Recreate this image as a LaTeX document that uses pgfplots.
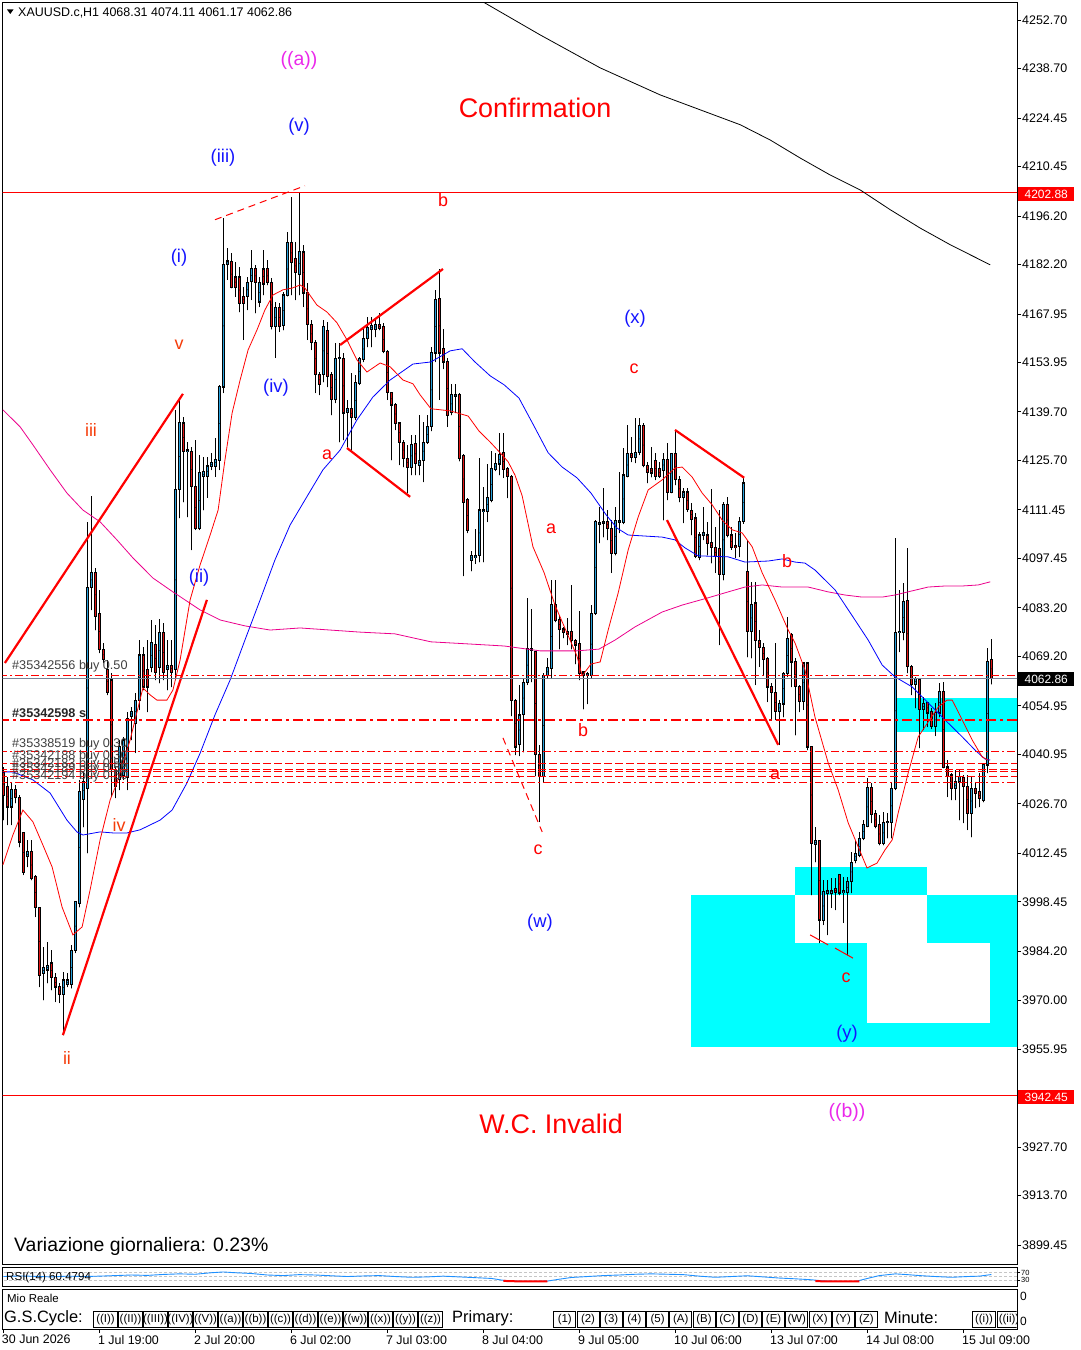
\documentclass[border=0pt]{standalone}
\usepackage{pgfplots}
\pgfplotsset{compat=1.18}
\usepackage{pgfplotstable}
\usepackage{fontspec}
\setmainfont{Liberation Sans}
\definecolor{bullc}{RGB}{38,160,220}
\definecolor{bearc}{RGB}{225,20,20}
\definecolor{aquac}{RGB}{0,255,255}
\definecolor{orred}{RGB}{245,60,10}
\definecolor{wblue}{RGB}{20,20,255}
\definecolor{wmag}{RGB}{235,40,235}
\definecolor{rsib}{RGB}{30,144,255}
\definecolor{bidg}{RGB}{120,130,150}
\newcommand{\fs}[1]{\fontsize{#1}{#1}\selectfont}
\pgfplotsset{candle/.style={only marks, mark=*, mark size=0.01pt, mark options={draw=none, fill=none}}}

\pgfplotstableread{
k o h l c
0 4035.6 4037.3 4022.0 4029.2
1 4031.6 4034.4 4020.6 4025.8
2 4025.8 4032.7 4020.6 4030.7
3 4030.7 4032.1 4026.9 4028.4
4 4028.4 4029.2 4014.2 4015.7
5 4018.3 4018.6 4006.2 4007.0
6 4011.4 4016.3 4008.5 4012.8
7 4012.8 4016.3 4004.7 4005.3
8 4005.6 4006.2 3994.1 3996.7
9 3996.7 3996.9 3973.9 3977.3
10 3977.9 3985.4 3970.1 3979.4
11 3978.8 3986.9 3975.0 3980.2
12 3980.8 3984.5 3973.0 3976.5
13 3976.5 3977.9 3969.6 3973.9
14 3973.9 3975.0 3969.3 3971.6
15 3971.6 3978.2 3960.0 3975.9
16 3974.5 3977.9 3973.9 3975.9
17 3974.5 3986.0 3973.5 3984.5
18 3984.5 3998.4 3983.7 3998.4
19 3998.1 4033.6 3996.9 4030.1
20 4028.0 4036.0 4020.0 4033.0
21 4031.0 4108.0 4012.5 4089.2
22 4089.2 4115.5 4082.6 4093.3
23 4093.3 4094.7 4076.8 4080.6
24 4081.7 4088.4 4070.2 4071.1
25 4071.1 4073.1 4067.3 4068.2
26 4065.3 4068.2 4058.1 4058.7
27 4062.4 4064.4 4028.7 4036.5
28 4036.5 4037.3 4028.4 4031.6
29 4033.6 4045.1 4030.7 4043.1
30 4035.0 4046.0 4033.6 4045.1
31 4034.4 4053.2 4030.7 4051.4
32 4052.0 4054.6 4045.1 4053.2
33 4050.0 4058.7 4041.4 4056.6
34 4056.6 4073.9 4053.8 4069.6
35 4069.6 4071.9 4059.5 4060.4
36 4065.3 4073.9 4053.2 4060.4
37 4065.9 4079.7 4064.7 4073.1
38 4072.5 4078.3 4062.4 4064.7
39 4065.9 4080.0 4061.5 4076.0
40 4076.0 4078.8 4062.4 4064.7
41 4065.3 4073.9 4059.5 4066.7
42 4066.7 4073.9 4060.4 4064.7
43 4065.3 4140.3 4062.4 4117.2
44 4117.2 4143.7 4109.1 4136.5
45 4136.5 4138.2 4113.7 4128.2
46 4128.2 4131.0 4109.4 4128.7
47 4128.2 4129.6 4099.9 4118.1
48 4118.1 4131.6 4105.7 4106.2
49 4106.2 4127.3 4105.7 4122.1
50 4121.0 4126.7 4111.4 4122.4
51 4121.0 4126.7 4115.0 4124.1
52 4124.1 4127.9 4123.0 4125.0
53 4124.1 4132.2 4121.0 4126.1
54 4125.8 4147.5 4123.0 4146.9
55 4146.9 4195.6 4145.2 4182.1
56 4182.1 4187.0 4177.8 4183.2
57 4183.2 4185.5 4175.4 4175.7
58 4178.6 4182.9 4172.9 4175.7
59 4178.6 4181.5 4168.5 4171.1
60 4172.9 4175.7 4160.5 4171.1
61 4172.9 4178.6 4169.1 4176.9
62 4177.2 4186.4 4172.0 4180.9
63 4180.9 4182.1 4168.2 4176.9
64 4171.4 4178.6 4170.0 4176.9
65 4180.9 4186.4 4173.4 4176.6
66 4180.9 4183.5 4176.3 4176.9
67 4176.9 4178.3 4163.5 4164.2
68 4164.2 4171.4 4155.3 4169.7
69 4169.7 4171.1 4162.8 4164.2
70 4164.5 4174.3 4163.3 4173.4
71 4173.4 4191.6 4173.0 4188.4
72 4188.4 4201.7 4173.4 4182.7
73 4183.8 4188.7 4172.0 4179.8
74 4179.2 4202.8 4173.4 4185.8
75 4185.8 4187.8 4170.0 4174.0
76 4174.0 4176.9 4160.5 4164.8
77 4164.8 4166.2 4157.6 4159.6
78 4159.6 4160.5 4145.2 4150.4
79 4150.4 4151.2 4144.6 4147.5
80 4150.4 4166.2 4148.3 4164.2
81 4163.3 4165.6 4146.9 4149.8
82 4150.4 4151.2 4138.8 4143.2
83 4143.2 4159.6 4142.3 4155.0
84 4155.0 4159.6 4131.0 4155.3
85 4155.0 4156.7 4131.6 4139.4
86 4139.4 4143.2 4129.6 4140.6
87 4140.6 4150.9 4128.7 4138.0
88 4138.0 4150.4 4137.4 4148.1
89 4147.8 4155.5 4147.5 4155.0
90 4154.7 4163.9 4154.1 4161.0
91 4161.0 4167.1 4158.4 4163.9
92 4163.6 4167.1 4158.4 4164.5
93 4163.6 4166.2 4161.3 4164.8
94 4164.8 4168.2 4163.3 4163.9
95 4164.2 4165.4 4156.7 4157.0
96 4157.0 4157.5 4143.2 4145.2
97 4145.2 4145.5 4125.8 4141.7
98 4141.7 4142.3 4134.5 4136.5
99 4136.5 4136.8 4124.4 4131.0
100 4131.0 4131.6 4123.8 4126.4
101 4126.4 4130.2 4116.3 4123.8
102 4123.8 4133.1 4121.5 4130.2
103 4130.5 4133.1 4121.5 4124.7
104 4124.4 4138.8 4121.5 4125.8
105 4125.8 4136.8 4119.5 4131.0
106 4131.0 4138.8 4130.5 4135.4
107 4135.4 4158.4 4134.2 4156.7
108 4156.7 4174.9 4154.1 4172.0
109 4172.3 4180.9 4143.2 4156.7
110 4158.1 4163.6 4152.1 4154.1
111 4154.1 4155.3 4135.4 4138.8
112 4139.4 4147.8 4138.8 4144.6
113 4144.3 4147.8 4139.4 4144.6
114 4144.6 4145.2 4125.5 4126.4
115 4127.0 4127.5 4092.4 4113.7
116 4114.3 4114.8 4104.8 4105.4
117 4097.0 4099.6 4093.8 4098.2
118 4097.6 4106.0 4095.9 4098.2
119 4098.2 4126.4 4096.4 4111.4
120 4110.9 4118.1 4096.4 4111.4
121 4111.1 4124.7 4108.0 4114.9
122 4114.3 4128.4 4113.7 4123.3
123 4123.0 4127.9 4122.7 4124.7
124 4124.7 4133.6 4121.5 4127.3
125 4127.9 4133.6 4120.7 4123.0
126 4123.5 4123.8 4114.9 4121.2
127 4121.2 4121.5 4052.0 4056.6
128 4056.6 4057.0 4040.8 4043.1
129 4043.7 4061.0 4040.5 4052.3
130 4052.6 4063.0 4041.6 4061.8
131 4061.8 4086.1 4061.0 4071.6
132 4070.8 4082.9 4061.8 4071.6
133 4070.5 4070.8 4034.7 4040.8
134 4040.8 4043.7 4021.5 4034.7
135 4034.7 4064.4 4033.0 4063.8
136 4063.6 4068.7 4063.0 4065.9
137 4065.6 4091.2 4063.0 4084.3
138 4084.3 4091.2 4079.1 4079.7
139 4079.7 4080.9 4071.3 4077.1
140 4077.1 4077.7 4074.5 4076.0
141 4076.3 4080.3 4072.5 4075.4
142 4076.3 4089.8 4071.3 4073.9
143 4073.9 4074.2 4067.0 4072.5
144 4072.8 4082.3 4062.4 4064.4
145 4063.8 4065.0 4054.0 4064.7
146 4063.8 4064.7 4055.5 4064.4
147 4063.8 4084.0 4063.0 4081.7
148 4081.7 4108.5 4081.2 4108.0
149 4107.4 4112.3 4101.9 4107.8
150 4107.6 4117.8 4103.6 4108.1
151 4108.1 4111.4 4102.8 4106.2
152 4106.2 4108.5 4093.3 4099.0
153 4099.0 4112.3 4098.4 4108.5
154 4107.7 4122.4 4104.8 4108.5
155 4107.7 4129.3 4107.4 4121.5
156 4121.2 4135.9 4120.9 4127.6
157 4127.6 4132.5 4125.3 4126.7
158 4126.7 4138.0 4125.0 4127.9
159 4127.9 4138.0 4127.3 4135.9
160 4135.9 4136.5 4123.8 4124.4
161 4124.1 4125.3 4119.2 4122.1
162 4123.5 4129.6 4120.9 4122.1
163 4125.6 4127.9 4120.1 4121.2
164 4123.3 4125.3 4120.7 4121.2
165 4122.7 4127.9 4108.5 4126.1
166 4126.1 4130.7 4114.3 4116.6
167 4116.6 4127.9 4116.3 4127.6
168 4127.6 4134.2 4118.6 4120.1
169 4120.1 4121.2 4113.7 4114.9
170 4114.9 4117.8 4107.7 4116.6
171 4116.6 4117.8 4110.9 4111.7
172 4111.4 4113.5 4104.2 4108.8
173 4109.1 4110.6 4097.6 4097.9
174 4097.6 4105.1 4097.0 4104.2
175 4104.2 4112.3 4102.8 4104.8
176 4104.2 4108.0 4098.4 4101.9
177 4101.9 4117.5 4096.1 4100.5
178 4100.5 4106.5 4093.3 4097.9
179 4100.2 4111.4 4072.5 4092.7
180 4092.7 4113.7 4091.2 4112.9
181 4112.9 4115.2 4103.6 4104.2
182 4104.2 4106.5 4100.0 4100.5
183 4101.1 4104.8 4097.6 4100.5
184 4100.8 4109.4 4097.9 4108.0
185 4108.0 4120.9 4107.5 4119.2
186 4093.6 4102.8 4069.0 4076.3
187 4076.3 4090.7 4068.7 4084.3
188 4084.6 4090.7 4061.0 4073.9
189 4073.9 4076.8 4066.2 4071.9
190 4071.9 4073.1 4063.8 4068.2
191 4068.5 4069.0 4056.1 4060.4
192 4060.4 4061.5 4050.9 4058.7
193 4058.7 4073.1 4050.9 4053.2
194 4053.2 4056.6 4043.7 4055.5
195 4055.5 4064.7 4051.7 4064.4
196 4064.4 4080.6 4063.3 4074.5
197 4075.4 4076.0 4060.4 4067.6
198 4067.6 4068.7 4046.5 4060.4
199 4060.4 4061.0 4053.2 4056.1
200 4056.1 4067.6 4053.8 4067.3
201 4067.3 4067.6 4042.2 4043.1
202 4043.1 4043.4 4000.4 4015.4
203 4015.1 4020.0 4009.9 4016.0
204 4016.0 4016.3 3986.6 3993.2
205 3993.2 4004.7 3991.8 4001.3
206 4001.0 4004.7 3988.9 4001.8
207 4001.0 4005.3 3996.7 4001.8
208 4002.4 4005.3 3996.1 4001.0
209 4006.2 4006.5 4000.4 4001.0
210 4001.0 4005.6 3992.4 4001.6
211 4001.0 4005.6 3983.1 4004.2
212 4004.2 4012.8 4001.0 4009.9
213 4010.5 4016.3 4009.6 4012.5
214 4011.9 4018.6 4011.4 4016.8
215 4016.8 4022.0 4016.3 4020.6
216 4020.3 4034.1 4020.0 4031.3
217 4031.3 4032.7 4021.2 4023.5
218 4023.8 4024.9 4019.7 4020.3
219 4020.6 4023.5 4014.8 4015.4
220 4015.4 4024.3 4014.8 4021.2
221 4021.2 4024.1 4016.8 4021.5
222 4021.2 4032.7 4016.8 4031.0
223 4031.0 4103.4 4030.7 4076.0
224 4076.0 4088.4 4070.5 4076.5
225 4076.0 4090.4 4073.9 4084.9
226 4085.2 4100.5 4064.4 4066.2
227 4066.2 4066.7 4058.1 4061.2
228 4061.2 4063.3 4054.3 4062.7
229 4062.4 4063.0 4042.8 4054.0
230 4054.0 4057.5 4048.0 4055.5
231 4055.8 4056.1 4048.9 4052.9
232 4053.2 4054.3 4048.3 4048.9
233 4048.9 4055.8 4046.3 4052.9
234 4052.9 4061.5 4051.7 4059.0
235 4059.0 4061.8 4037.0 4037.3
236 4037.3 4039.3 4028.7 4034.7
237 4035.0 4035.6 4027.8 4031.0
238 4031.0 4036.5 4027.8 4033.0
239 4033.0 4036.5 4022.0 4034.7
240 4034.4 4035.0 4021.2 4031.6
241 4031.8 4035.0 4019.2 4024.0
242 4024.0 4034.4 4017.1 4031.0
243 4031.0 4032.7 4025.5 4029.8
244 4030.1 4035.6 4025.8 4028.1
245 4027.8 4038.5 4027.2 4037.9
246 4037.9 4071.6 4035.6 4067.6
247 4068.31 4074.11 4061.17 4062.86
}\candles

\begin{document}
\begin{tikzpicture}[x=1bp,y=1bp]
\fill[white] (0,0) rectangle (1080,-1350);

% ---------------- main price window ----------------
\begin{axis}[
  at={(2.5bp,-3bp)}, anchor=north west,
  scale only axis, width=1014.5bp, height=1261bp,
  xmin=-0.2, xmax=253.4, ymin=3894.0, ymax=4257.6,
  axis line style={black, line width=1bp},
  xtick=\empty,
  ytick={4252.70,4238.70,4224.45,4210.45,4196.20,4182.20,4167.95,4153.95,4139.70,4125.70,4111.45,4097.45,4083.20,4069.20,4054.95,4040.95,4026.70,4012.45,3998.45,3984.20,3970.00,3955.95,3927.70,3913.70,3899.45},
  yticklabels={4252.70,4238.70,4224.45,4210.45,4196.20,4182.20,4167.95,4153.95,4139.70,4125.70,4111.45,4097.45,4083.20,4069.20,4054.95,4040.95,4026.70,4012.45,3998.45,3984.20,3970.00,3955.95,3927.70,3913.70,3899.45},
  ytick pos=right, yticklabel pos=right,
  tick align=outside, major tick length=4bp,
  every tick/.style={black, line width=0.8bp},
  yticklabel style={font=\fs{12.5}, inner sep=1bp},
  clip=true,
]
% cyan zones
\addplot[fill=aquac, draw=none] coordinates {(171.9,4000.4) (197.9,4000.4) (197.9,3956.6) (171.9,3956.6)} -- cycle;
\addplot[fill=aquac, draw=none] coordinates {(197.9,4008.5) (230.9,4008.5) (230.9,4000.4) (197.9,4000.4)} -- cycle;
\addplot[fill=aquac, draw=none] coordinates {(230.9,4000.4) (260,4000.4) (260,3986.6) (230.9,3986.6)} -- cycle;
\addplot[fill=aquac, draw=none] coordinates {(197.9,3986.6) (215.9,3986.6) (215.9,3956.6) (197.9,3956.6)} -- cycle;
\addplot[fill=aquac, draw=none] coordinates {(215.9,3963.5) (260,3963.5) (260,3956.6) (215.9,3956.6)} -- cycle;
\addplot[fill=aquac, draw=none] coordinates {(246.7,3986.6) (260,3986.6) (260,3963.5) (246.7,3963.5)} -- cycle;
\addplot[fill=aquac, draw=none] coordinates {(223.4,4057.2) (260,4057.2) (260,4047.4) (223.4,4047.4)} -- cycle;

% level lines
\addplot[red, line width=1bp] coordinates {(-1,4202.88) (260,4202.88)};
\addplot[red, line width=1bp] coordinates {(-1,3942.45) (260,3942.45)};

% candles: wicks, outlines, fills
\addplot[candle, error bars/.cd, y dir=plus, y explicit, error mark=none,
  error bar style={draw=black, line width=1bp}]
  table[x=k, y=l, y error plus expr=\thisrow{h}-\thisrow{l}] {\candles};
\addplot[candle, error bars/.cd, y dir=both, y explicit, error mark=none,
  error bar style={draw=black, line width=3.2bp}]
  table[x=k, y expr=(\thisrow{o}+\thisrow{c})/2, y error expr={abs(\thisrow{c}-\thisrow{o})/2+0.16}] {\candles};
\addplot[candle, error bars/.cd, y dir=both, y explicit, error mark=none,
  error bar style={draw=bullc, line width=1.6bp}]
  table[x expr={\thisrow{c}>\thisrow{o} ? \thisrow{k} : -50}, y expr=(\thisrow{o}+\thisrow{c})/2, y error expr={max(abs(\thisrow{c}-\thisrow{o})/2-0.14,0)}] {\candles};
\addplot[candle, error bars/.cd, y dir=both, y explicit, error mark=none,
  error bar style={draw=bearc, line width=1.6bp}]
  table[x expr={\thisrow{c}<\thisrow{o} ? \thisrow{k} : -50}, y expr=(\thisrow{o}+\thisrow{c})/2, y error expr={max(abs(\thisrow{c}-\thisrow{o})/2-0.14,0)}] {\candles};

% moving averages
\addplot[black, line width=0.8bp] coordinates {(116.7,4259.9) (120.4,4257.6) (134.2,4248.4) (149.2,4238.9) (164.2,4231.1) (174.2,4226.8) (184.2,4222.5) (191.7,4218.1) (199.2,4212.9) (206.7,4208.0) (214.2,4203.7) (221.7,4198.0) (229.2,4192.7) (236.7,4187.9) (246.7,4182.1)};
\addplot[magenta, line width=0.8bp] coordinates {(-0.1,4140.3) (4.2,4135.4) (7.4,4130.2) (11.7,4123.0) (15.9,4116.3) (19.9,4111.4) (24.2,4108.0) (28.4,4102.8) (32.4,4097.6) (37.4,4091.8) (42.4,4087.8) (49.2,4082.6) (54.2,4079.7) (60.4,4078.0) (66.7,4076.8) (74.2,4077.4) (81.7,4076.8) (89.2,4076.2) (97.9,4075.7) (106.9,4073.4) (116.2,4072.8) (125.2,4072.2) (134.2,4070.8) (143.4,4070.8) (148.9,4071.3) (152.9,4073.9) (157.9,4077.7) (164.7,4082.0) (169.7,4084.0) (176.2,4086.1) (181.2,4087.8) (185.4,4089.2) (189.7,4089.8) (194.7,4089.2) (201.2,4089.2) (206.2,4087.8) (210.4,4086.9) (214.7,4086.3) (219.7,4086.3) (222.9,4086.9) (227.2,4088.1) (231.2,4089.2) (235.4,4089.5) (239.7,4089.5) (243.7,4089.8) (246.7,4090.7)};
\addplot[blue, line width=0.8bp] coordinates {(-0.1,4035.9) (2.4,4035.9) (7.4,4033.6) (11.7,4029.8) (15.9,4022.0) (18.4,4018.6) (19.9,4017.7) (24.2,4018.6) (27.4,4018.3) (30.9,4018.3) (34.2,4019.2) (39.2,4022.0) (42.2,4024.9) (45.9,4032.7) (49.2,4041.3) (52.9,4052.3) (56.7,4062.4) (60.4,4073.9) (64.2,4085.5) (67.9,4097.0) (71.7,4107.1) (75.4,4114.3) (79.9,4123.0) (84.2,4128.7) (88.4,4137.4) (92.4,4144.0) (96.7,4148.9) (102.4,4153.5) (106.9,4154.1) (111.7,4157.3) (114.7,4157.9) (117.9,4154.1) (121.7,4150.1) (125.2,4147.5) (128.9,4143.7) (132.4,4136.2) (136.2,4127.9) (139.7,4123.8) (143.4,4120.7) (146.9,4116.3) (150.7,4110.0) (153.4,4106.2) (156.2,4104.2) (164.7,4103.6) (167.9,4102.8) (170.4,4100.5) (173.7,4098.2) (181.2,4097.9) (185.4,4096.4) (191.2,4096.7) (194.7,4097.3) (197.9,4096.4) (200.4,4096.1) (202.9,4094.1) (207.9,4088.4) (212.9,4079.7) (216.2,4073.9) (219.7,4066.7) (222.9,4063.3) (227.2,4060.4) (231.2,4055.8) (235.4,4050.9) (239.7,4046.0) (242.9,4042.2) (245.4,4039.6) (246.7,4039.3)};
\addplot[red, line width=0.8bp] coordinates {(-0.1,4009.1) (2.4,4017.7) (4.9,4024.9) (7.4,4021.5) (9.9,4014.8) (12.2,4008.5) (14.7,3996.9) (17.4,3988.9) (19.7,3991.2) (21.7,4001.9) (24.2,4016.3) (26.7,4027.8) (28.4,4032.7) (31.7,4045.1) (34.9,4060.1) (36.7,4058.1) (38.4,4056.6) (40.9,4056.6) (42.4,4059.5) (44.2,4068.2) (46.7,4085.5) (49.2,4095.6) (51.7,4104.2) (53.7,4111.4) (55.4,4125.8) (57.2,4139.4) (59.2,4148.9) (61.2,4157.6) (63.4,4163.3) (65.4,4169.1) (67.4,4173.4) (69.9,4174.9) (72.2,4175.4) (74.2,4176.3) (75.4,4175.4) (78.4,4170.5) (80.9,4168.5) (83.4,4165.4) (85.9,4160.5) (88.4,4154.7) (90.9,4151.2) (94.2,4153.8) (96.7,4152.7) (99.9,4148.9) (102.4,4147.8) (104.2,4144.6) (106.9,4140.6) (111.7,4140.0) (116.2,4138.5) (118.9,4134.2) (121.7,4131.0) (124.2,4127.9) (126.2,4125.3) (127.9,4121.5) (129.7,4115.5) (132.4,4100.8) (135.2,4093.3) (137.9,4084.0) (140.7,4076.5) (143.4,4069.3) (144.7,4063.6) (146.9,4067.0) (149.2,4067.6) (151.2,4076.8) (153.7,4087.5) (156.2,4099.9) (158.7,4109.4) (161.2,4117.2) (164.7,4120.1) (167.9,4123.5) (169.7,4123.8) (172.2,4120.9) (174.7,4116.3) (177.2,4112.9) (179.7,4108.5) (182.2,4105.7) (184.7,4104.8) (187.2,4100.8) (189.7,4093.3) (192.9,4085.5) (196.2,4076.8) (197.9,4073.1) (200.4,4065.3) (202.9,4051.7) (206.2,4038.5) (208.7,4030.7) (211.2,4021.2) (213.7,4014.3) (215.9,4008.2) (218.4,4009.6) (220.4,4013.4) (222.2,4016.3) (223.7,4024.1) (226.2,4035.6) (228.7,4046.0) (231.2,4050.3) (233.7,4054.6) (235.9,4056.6) (237.2,4056.6) (239.7,4050.9) (242.2,4045.1) (244.7,4040.2) (246.2,4039.3)};

% wave trendlines
\addplot[red, line width=2.2bp] coordinates {(0.4,4067.3) (44.9,4144.9)};
\addplot[red, line width=2.2bp] coordinates {(14.9,3960.0) (50.9,4085.5)};
\addplot[red, line width=1bp, dash pattern=on 7bp off 5bp] coordinates {(52.9,4195.1) (75.4,4204.9)};
\addplot[red, line width=2.2bp] coordinates {(84.2,4159.0) (109.9,4180.9)};
\addplot[red, line width=2.2bp] coordinates {(85.9,4129.3) (101.7,4115.2)};
\addplot[red, line width=2.2bp] coordinates {(167.9,4134.5) (185.2,4120.7)};
\addplot[red, line width=2.2bp] coordinates {(165.9,4108.5) (193.7,4043.7)};
\addplot[red, line width=1bp, dash pattern=on 7bp off 5bp] coordinates {(124.9,4045.7) (134.7,4018.6)};
\addplot[red, line width=1bp] coordinates {(201.7,3988.9) (206.2,3986.0)};
\addplot[red, line width=1bp] coordinates {(207.9,3985.1) (212.4,3982.2)};

% order lines
\addplot[red, line width=1bp, dash pattern=on 8bp off 3bp on 2bp off 3bp] coordinates {(-1,4063.8) (260,4063.8)};
\addplot[bidg, line width=1bp] coordinates {(-1,4062.86) (260,4062.86)};
\addplot[red, line width=2.5bp, dash pattern=on 10bp off 4bp on 3bp off 4bp] coordinates {(-1,4050.9) (260,4050.9)};
\addplot[red, line width=1bp, dash pattern=on 8bp off 3bp on 2bp off 3bp] coordinates {(-1,4041.9) (260,4041.9)};
\addplot[red, line width=1bp, dash pattern=on 8bp off 3bp] coordinates {(-1,4038.2) (260,4038.2)};
\addplot[red, line width=1bp, dash pattern=on 8bp off 3bp] coordinates {(-1,4036.7) (260,4036.7)};
\addplot[red, line width=1bp, dash pattern=on 8bp off 3bp] coordinates {(-1,4035.9) (260,4035.9)};
\addplot[red, line width=1bp, dash pattern=on 8bp off 3bp] coordinates {(-1,4034.7) (260,4034.7)};
\addplot[red, line width=1bp, dash pattern=on 8bp off 3bp on 2bp off 3bp] coordinates {(-1,4032.7) (260,4032.7)};
\end{axis}

% ---------------- RSI window ----------------
\begin{axis}[
  at={(2.5bp,-1267bp)}, anchor=north west,
  scale only axis, width=1014.5bp, height=19bp,
  xmin=-0.2, xmax=253.4, ymin=0, ymax=100,
  axis line style={black, line width=1bp},
  xtick=\empty, ytick={30,70}, yticklabels={30,70},
  ytick pos=right, yticklabel pos=right,
  tick align=outside, major tick length=3bp,
  every tick/.style={black, line width=0.8bp},
  yticklabel style={font=\fs{7.5}, inner sep=1bp},
  clip=true,
]
\addplot[gray!45, line width=0.8bp, dash pattern=on 3bp off 2bp] coordinates {(-1,30) (260,30)};
\addplot[gray!45, line width=0.8bp, dash pattern=on 3bp off 2bp] coordinates {(-1,50) (260,50)};
\addplot[gray!45, line width=0.8bp, dash pattern=on 3bp off 2bp] coordinates {(-1,70) (260,70)};
\addplot[rsib, line width=0.9bp] coordinates {(0,50) (4,53) (8,51) (12,48) (16,52) (20,50) (24,52) (28,55) (32,58) (36,56) (40,61) (44,64) (48,62) (52,70) (55,74) (58,70) (62,66) (66,58) (70,55) (74,60) (78,58) (82,54) (86,50) (90,53) (94,55) (98,50) (102,46) (106,48) (110,52) (114,48) (118,44) (122,40) (125,30) (128,26) (132,24) (136,26) (139,36) (142,45) (146,50) (150,55) (154,58) (158,62) (162,64) (166,62) (170,60) (174,52) (178,46) (182,50) (186,54) (190,48) (194,42) (198,38) (202,33) (205,27) (209,24) (213,24) (216,40) (219,55) (223,64) (226,60) (229,55) (233,50) (237,46) (241,50) (244,52) (247,60.5)};
\addplot[red, line width=2bp] coordinates {(125,27) (128,25) (132,24) (136,25)};
\addplot[red, line width=2bp] coordinates {(203,26) (206,24) (210,24) (214,24)};
\end{axis}

% ---------------- panel with dates ----------------
\begin{axis}[
  at={(2.5bp,-1289bp)}, anchor=north west,
  scale only axis, width=1014.5bp, height=40bp,
  xmin=-0.2, xmax=253.4, ymin=0, ymax=1,
  axis line style={black, line width=1bp},
  ytick=\empty,
  xtick={0,24,48,72,96,120,144,168,192,216,240},
  xticklabels={30 Jun 2026,1 Jul 19:00,2 Jul 20:00,6 Jul 02:00,7 Jul 03:00,8 Jul 04:00,9 Jul 05:00,10 Jul 06:00,13 Jul 07:00,14 Jul 08:00,15 Jul 09:00},
  xtick pos=bottom, tick align=outside, major tick length=4bp,
  every tick/.style={black, line width=0.8bp},
  xticklabel style={font=\fs{12.5}, anchor=north west, inner sep=0pt, xshift=-1.5bp, yshift=-2bp},
]
\end{axis}

% header
\fill[black] (7,-9.5) -- (13.5,-9.5) -- (10.25,-14) -- cycle;
\node[anchor=west, font=\fs{12.5}, inner sep=0pt] at (18,-12.5) {XAUUSD.c,H1 4068.31 4074.11 4061.17 4062.86};

% price tags
\node[fill=red, text=white, anchor=west, minimum width=56bp, minimum height=14bp, inner sep=0pt, font=\fs{12}] at (1018,-194) {4202.88};
\node[fill=black, text=white, anchor=west, minimum width=56bp, minimum height=14bp, inner sep=0pt, font=\fs{12}] at (1018,-679) {4062.86};
\node[fill=red, text=white, anchor=west, minimum width=56bp, minimum height=14bp, inner sep=0pt, font=\fs{12}] at (1018,-1097) {3942.45};

% order labels
\node[anchor=west, font=\fs{12.7}, text=black!75, inner sep=0pt] at (12,-666) {\#35342556 buy 0.50};
\node[anchor=west, font=\fs{12.7}\bfseries, text=black!85, inner sep=0pt] at (12,-713) {\#35342598 s};
\node[anchor=west, font=\fs{12.7}, text=black!75, inner sep=0pt] at (12,-744) {\#35338519 buy 0.30};
\node[anchor=west, font=\fs{12.7}, text=black!75, inner sep=0pt] at (12,-756) {\#35342188 buy 0.30};
\node[anchor=west, font=\fs{12.7}, text=black!75, inner sep=0pt] at (12,-764) {\#35342183 buy 0.50};
\node[anchor=west, font=\fs{12.7}, text=black!75, inner sep=0pt] at (12,-769) {\#35342189 buy 0.50};
\node[anchor=west, font=\fs{12.7}, text=black!75, inner sep=0pt] at (12,-776) {\#35342194 buy 0.50};

% wave labels
\node[text=wmag, font=\fs{19.5}] at (299,-60) {((a))};
\node[text=red, font=\fs{27}] at (535,-108) {Confirmation};
\node[text=wblue, font=\fs{18.5}] at (299,-127) {(v)};
\node[text=wblue, font=\fs{18.5}] at (223,-158) {(iii)};
\node[text=red, font=\fs{18}] at (443,-200) {b};
\node[text=wblue, font=\fs{18.5}] at (179,-258) {(i)};
\node[text=wblue, font=\fs{18.5}] at (635,-319) {(x)};
\node[text=orred, font=\fs{18}] at (179,-345) {v};
\node[text=red, font=\fs{18}] at (634,-369) {c};
\node[text=wblue, font=\fs{18.5}] at (276,-388) {(iv)};
\node[text=orred, font=\fs{18}] at (91,-430) {iii};
\node[text=red, font=\fs{18}] at (327,-455) {a};
\node[text=red, font=\fs{18}] at (551,-529) {a};
\node[text=red, font=\fs{18}] at (787,-561) {b};
\node[text=wblue, font=\fs{18.5}] at (199,-578) {(ii)};
\node[text=red, font=\fs{18}] at (583,-730) {b};
\node[text=red, font=\fs{18}] at (775,-775) {a};
\node[text=orred, font=\fs{18}] at (119,-825) {iv};
\node[text=red, font=\fs{18}] at (538,-850) {c};
\node[text=wblue, font=\fs{18.5}] at (540,-923) {(w)};
\node[text=red, font=\fs{18}] at (846,-978) {c};
\node[text=wblue, font=\fs{18.5}] at (847,-1034) {(y)};
\node[text=orred, font=\fs{18}] at (67,-1058) {ii};
\node[text=wmag, font=\fs{19.5}] at (847,-1112) {((b))};
\node[text=red, font=\fs{27}] at (551,-1124) {W.C. Invalid};
\node[anchor=west, font=\fs{19.5}, inner sep=0pt] at (14,-1246) {Variazione giornaliera: 0.23\%};

% RSI label
\node[anchor=west, font=\fs{11.6}, inner sep=0pt] at (6,-1277) {RSI(14) 60.4794};

% panel texts and buttons
\node[anchor=west, font=\fs{11.5}, inner sep=0pt] at (7,-1298) {Mio Reale};
\node[anchor=west, font=\fs{16.5}, inner sep=0pt] at (4,-1318) {G.S.Cycle:};
\node[anchor=west, font=\fs{16.5}, inner sep=0pt] at (452,-1318) {Primary:};
\node[anchor=west, font=\fs{16.5}, inner sep=0pt] at (884,-1318) {Minute:};
\foreach \lbl [count=\i from 0] in {((I)),((II)),((III)),((IV)),((V)),((a)),((b)),((c)),((d)),((e)),((w)),((x)),((y)),((z))}{
  \pgfmathsetmacro\xa{93.8+25*\i}
  \draw[black, line width=0.8bp, fill=white] (\xa,-1311.5) rectangle ++(23.4,-16);
  \node[font=\fs{11.5}, inner sep=0pt] at (\xa+11.7,-1319.5) {\lbl};
}
\foreach \lbl [count=\i from 0] in {(1),(2),(3),(4),(5),(A),(B),(C),(D),(E),(W),(X),(Y),(Z)}{
  \pgfmathsetmacro\xa{553.8+23.2*\i}
  \draw[black, line width=0.8bp, fill=white] (\xa,-1311.5) rectangle ++(22,-16);
  \node[font=\fs{11.5}, inner sep=0pt] at (\xa+11,-1319.5) {\lbl};
}
\begin{scope}
\clip (0,-1290) rectangle (1016.5,-1329);
\draw[black, line width=0.8bp, fill=white] (972.8,-1311.5) rectangle ++(22.4,-16);
\node[font=\fs{11.5}, inner sep=0pt] at (984,-1319.5) {((i))};
\draw[black, line width=0.8bp, fill=white] (997,-1311.5) rectangle ++(24,-16);
\node[font=\fs{11.5}, inner sep=0pt] at (1009,-1319.5) {((ii))};
\end{scope}
\node[anchor=west, font=\fs{12}, inner sep=0pt] at (1020,-1296) {0};
\node[anchor=west, font=\fs{12}, inner sep=0pt] at (1020,-1321) {0};
\end{tikzpicture}
\end{document}
